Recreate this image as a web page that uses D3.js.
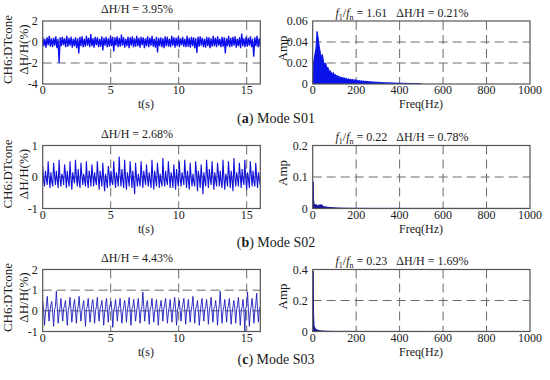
<!DOCTYPE html>
<html>
<head>
<meta charset="utf-8">
<script src="https://cdn.jsdelivr.net/npm/d3@7"></script>
<style>
  body { margin: 0; background: #fff; }
  text { font-family: "Liberation Serif", "DejaVu Serif", serif; fill: #1a1a1a; }
</style>
</head>
<body>
<div id="chart"></div>
<script>
// time signals, dH/H (%) sampled evenly over 0-16 s
var sigS01 = [
  0.5,-0.4,0.3,-0.55,0.45,-0.3,0.6,-0.45,0.35,-0.5,
  0.4,-0.35,0.55,-0.6,0.3,-2.0,0.45,-0.4,0.5,-0.3,
  0.35,-0.5,0.6,-0.45,0.4,-0.35,0.5,-0.55,0.3,-0.4,
  0.45,-0.6,0.35,-1.1,0.5,-0.4,0.55,-0.5,0.3,-0.45,
  0.6,-0.35,0.4,-0.5,0.75,-0.4,0.35,-0.55,0.5,-0.3,
  0.45,-0.5,0.3,-0.45,0.55,-0.8,0.4,-0.35,0.5,-0.5,
  0.35,-0.45,0.6,-0.4,0.5,-0.9,0.45,-0.35,0.55,-0.5,
  0.4,-0.45,0.7,-0.35,0.45,-0.55,0.3,-0.4,0.5,-0.6,
  0.45,-0.35,0.55,-0.5,0.35,-0.45,0.6,-0.4,0.4,-0.55,
  0.5,-0.3,0.45,-0.6,0.35,-0.4,0.55,-0.5,0.4,-0.35,
  0.6,-0.45,0.3,-0.55,0.5,-1.0,0.4,-0.4,0.45,-0.5,
  0.35,-0.6,0.55,-0.4,0.5,-0.45,0.3,-0.5,0.6,-0.35,
  0.45,-0.55,0.4,-0.4,0.55,-0.5,0.35,-0.3,0.5,-0.45,
  0.3,-0.5,0.6,-0.45,0.4,-0.55,0.5,-0.4,0.45,-0.6,
  0.35,-1.05,0.5,-0.45,0.55,-0.35,0.4,-0.5,0.3,-0.55,
  0.5,-0.4,0.45,-0.6,0.35,-0.45,0.6,-0.4,0.4,-0.5,
  0.55,-0.35,0.3,-0.5,0.5,-0.45,0.45,-1.1,0.35,-0.4,
  0.6,-0.5,0.4,-0.45,0.5,-0.35,0.55,-0.55,0.3,-0.4,
  0.45,-0.6,0.8,-0.4,0.35,-0.5,0.5,-0.45,0.4,-0.35,
  0.55,-0.5,0.3,-1.4,0.45,-0.4,0.6,-0.5,0.35,-0.45
];

var sigS02 = [
  0.35,-0.1,-0.3,0.2,-0.05,-0.25, 0.5,0.0,-0.35,0.15,-0.15,-0.3,
  0.45,0.05,-0.25,0.2,-0.1,-0.35, 0.55,-0.05,-0.3,0.1,0.0,-0.25,
  0.4,0.1,-0.35,0.2,-0.1,-0.3, 0.5,-0.05,-0.4,0.15,-0.05,-0.2,
  0.55,0.0,-0.3,0.25,-0.15,-0.35, 0.45,0.05,-0.25,0.1,-0.1,-0.3,
  0.5,-0.1,-0.35,0.2,0.0,-0.3, 0.4,0.05,-0.3,0.15,-0.1,-0.25,
  0.5,0.0,-0.4,0.2,-0.05,-0.3, 0.45,-0.05,-0.45,0.1,-0.1,-0.35,
  0.35,0.1,-0.3,0.2,-0.15,-0.25, 0.5,0.0,-0.35,0.15,-0.05,-0.3,
  0.65,0.05,-0.3,0.25,-0.1,-0.35, 0.55,-0.05,-0.4,0.15,-0.05,-0.3,
  0.5,0.1,-0.35,0.2,-0.15,-0.55, 0.45,0.0,-0.3,0.1,-0.1,-0.3,
  0.5,0.05,-0.35,0.2,-0.05,-0.25, 0.4,-0.05,-0.3,0.15,-0.1,-0.35,
  0.55,0.0,-0.4,0.2,-0.05,-0.3, 0.45,0.1,-0.35,0.1,-0.15,-0.3,
  0.6,-0.05,-0.3,0.2,-0.1,-0.25, 0.5,0.05,-0.35,0.15,-0.05,-0.35,
  0.4,0.0,-0.4,0.25,-0.1,-0.3, 0.5,-0.05,-0.3,0.15,-0.05,-0.25,
  0.55,0.05,-0.35,0.2,-0.1,-0.4, 0.45,0.0,-0.3,0.1,-0.15,-0.3,
  0.5,0.1,-0.45,0.2,-0.05,-0.35, 0.4,-0.05,-0.55,0.15,-0.1,-0.3,
  0.55,0.05,-0.35,0.25,-0.05,-0.25, 0.5,0.0,-0.4,0.15,-0.1,-0.3,
  0.45,0.1,-0.3,0.2,-0.15,-0.35, 0.55,-0.05,-0.4,0.1,-0.05,-0.3,
  0.5,0.05,-0.35,0.2,-0.1,-0.45, 0.6,0.0,-0.3,0.15,-0.05,-0.3,
  0.45,0.05,-0.35,0.25,-0.1,-0.25, 0.55,-0.05,-0.4,0.15,-0.05,-0.35,
  0.5,0.1,-0.3,0.2,-0.15,-0.3, 0.45,0.0,-0.35,0.15,-0.1,-0.25
];

var sigS03 = [
  0.5,0.0,-0.7,-0.1,0.2, 0.7,0.1,-0.5,0.0,0.3, 0.45,-0.1,-0.75,0.05,0.2,
  0.95,0.2,-0.6,-0.1,0.15, 0.6,0.0,-0.5,0.1,0.25, 0.5,-0.05,-0.7,0.0,0.2,
  0.65,0.1,-0.55,-0.1,0.3, 0.55,0.0,-0.6,0.05,0.2, 0.7,0.05,-0.5,0.0,0.25,
  0.5,-0.1,-0.75,0.1,0.2, 0.6,0.0,-0.55,-0.05,0.3, 0.55,0.1,-0.6,0.0,0.2,
  0.65,-0.05,-0.5,0.1,0.25, 0.5,0.0,-0.7,-0.1,0.2, 0.6,0.1,-0.55,0.05,0.3,
  0.45,0.0,-0.8,0.0,0.2, 0.55,0.05,-0.5,0.1,0.25, 0.6,-0.05,-0.6,-0.05,0.2,
  0.5,0.1,-0.55,0.0,0.3, 0.65,0.0,-0.7,0.1,0.2, 0.55,0.05,-0.5,-0.1,0.25,
  0.6,0.0,-0.6,0.05,0.2, 0.9,0.2,-0.5,0.0,0.3, 0.5,-0.05,-0.65,0.1,0.2,
  0.6,0.05,-0.55,-0.05,0.25, 0.55,0.0,-0.7,0.0,0.2, 0.5,0.1,-0.5,0.1,0.3,
  0.6,0.0,-0.6,-0.1,0.2, 0.55,-0.05,-0.55,0.05,0.25, 0.65,0.05,-0.7,0.0,0.2,
  0.5,0.0,-0.5,0.1,0.3, 0.6,0.1,-0.65,-0.05,0.2, 0.55,0.0,-0.55,0.0,0.25,
  0.7,0.05,-0.6,0.1,0.2, 0.5,-0.05,-0.7,-0.1,0.3, 0.6,0.0,-0.5,0.05,0.2,
  0.55,0.1,-0.65,0.0,0.25, 0.65,0.0,-0.55,0.1,0.2, 0.5,0.05,-0.7,-0.05,0.3,
  0.95,0.1,-0.6,0.0,0.2, 0.55,0.0,-0.55,0.1,0.25, 0.6,-0.05,-0.65,-0.1,0.2,
  0.5,0.1,-0.6,0.05,0.3, 0.65,0.0,-0.7,0.0,0.2, 0.55,0.05,-1.0,0.1,0.25,
  0.9,0.0,-0.75,-0.05,0.2, 0.6,0.1,-0.6,0.0,0.3, 0.85,0.0,-0.55,0.1,0.2
];

// spectrum S01, 5 Hz bins from 0 to 500 Hz
var ampS01 = [
  0.004,0.022,0.028,0.034,0.05,0.044,0.036,0.03,0.026,0.028,
  0.021,0.019,0.02,0.015,0.016,0.012,0.013,0.011,0.01,0.011,
  0.0085,0.009,0.0075,0.008,0.0065,0.007,0.006,0.0065,0.0055,0.006,
  0.005,0.0055,0.0045,0.005,0.0042,0.0045,0.004,0.0043,0.0036,0.004,
  0.0034,0.0036,0.003,0.0033,0.0028,0.003,0.0026,0.0029,0.0024,0.0027,
  0.0022,0.0024,0.002,0.0023,0.0019,0.0021,0.0018,0.002,0.0016,0.0018,
  0.0015,0.0017,0.0014,0.0015,0.0013,0.0014,0.0012,0.0013,0.0011,0.0012,
  0.001,0.0011,0.001,0.001,0.0009,0.001,0.0008,0.0009,0.0008,0.0008,
  0.0007,0.0008,0.0007,0.0007,0.0006,0.0007,0.0006,0.0006,0.0005,0.0006,
  0.0005,0.0005,0.0004,0.0005,0.0004,0.0004,0.0003,0.0004,0.0003,0.0003,
  0.0002
];
var freqS02 = [0,2,4,6,8,10,14,18,22,26,30,34,38,42,46,50,60,70,80,90,100,120,150,200,300,500,1000];
var ampS02 = [0.02,0.085,0.03,0.015,0.012,0.014,0.01,0.012,0.008,0.011,0.009,0.013,0.01,0.012,0.008,0.006,0.005,0.004,0.003,0.003,0.002,0.0015,0.001,0.0006,0.0004,0.0003,0.0002];
var freqS03 = [0,2,4,6,8,10,12,15,20,25,30,40,60,100,200,500,1000];
var ampS03 = [0.05,0.39,0.12,0.04,0.03,0.025,0.02,0.015,0.01,0.008,0.006,0.004,0.002,0.001,0.0006,0.0004,0.0003];

var sigTitles = ["ΔH/H = 3.95%", "ΔH/H = 2.68%", "ΔH/H = 4.43%"];
var ratios = ["1.61", "0.22", "0.23"];
var specDH = ["0.21%", "0.78%", "1.69%"];
var captionTags = ["a", "b", "c"];
var captionModes = ["Mode S01", "Mode S02", "Mode S03"];
var timeTicks = [0, 5, 10, 15];
var freqTicks = [0, 200, 400, 600, 800, 1000];

var svg = d3.select("#chart").append("svg").attr("width", 550).attr("height", 380);

var leftX = [42.7, 260.3];
var rightX = [312.7, 530];

var rows = [
  { top: 21, bottom: 84, sig: sigS01, yDom: [-4, 2], yTicks: [-4, -2, 0, 2],
    freq: ampS01.map(function (d, i) { return i * 5; }), amp: ampS01,
    aDom: [0, 0.06], aTicks: [0, 0.02, 0.04, 0.06], aFmt: ".2f",
    sigColor: "#0b0bf0", sigW: 1.3, specColor: "#0a14e8", capY: 118 },
  { top: 145.5, bottom: 208.5, sig: sigS02, yDom: [-1, 1], yTicks: [-1, 0, 1],
    freq: freqS02, amp: ampS02,
    aDom: [0, 0.2], aTicks: [0, 0.1, 0.2], aFmt: ".1f",
    sigColor: "#1212d8", sigW: 1.1, specColor: "#16169c", capY: 241.5 },
  { top: 269.5, bottom: 331.5, sig: sigS03, yDom: [-1, 2], yTicks: [-1, 0, 1, 2],
    freq: freqS03, amp: ampS03,
    aDom: [0, 0.4], aTicks: [0, 0.2, 0.4], aFmt: ".1f",
    sigColor: "#1c1cbc", sigW: 0.9, specColor: "#16169c", capY: 359 }
];

function frame(g, x, y, xTicks, gridX, yTicks, gridY, yFmt, id) {
  var x0 = x.range()[0], x1 = x.range()[1];
  var yb = y.range()[0], yt = y.range()[1];
  g.append("clipPath").attr("id", id).append("rect")
    .attr("x", x0).attr("y", yt).attr("width", x1 - x0).attr("height", yb - yt);
  var grid = g.append("g").attr("stroke", "#6a6a6a").attr("stroke-dasharray", "9,5");
  grid.selectAll(".gx").data(gridX).join("line")
    .attr("x1", x).attr("x2", x).attr("y1", yt).attr("y2", yb);
  grid.selectAll(".gy").data(gridY).join("line")
    .attr("x1", x0).attr("x2", x1).attr("y1", y).attr("y2", y);
  g.append("g").selectAll("text").data(xTicks).join("text")
    .attr("x", x).attr("y", yb + 10).attr("text-anchor", "middle")
    .attr("font-size", 12).text(function (d) { return d; });
  g.append("g").selectAll("text").data(yTicks).join("text")
    .attr("x", x0 - 5).attr("y", function (d) { return y(d) + 4; })
    .attr("text-anchor", "end").attr("font-size", 12).text(yFmt);
}

rows.forEach(function (r, k) {
  // left: time signal
  var gl = svg.append("g");
  var x = d3.scaleLinear().domain([0, 16]).range(leftX);
  var y = d3.scaleLinear().domain(r.yDom).range([r.bottom, r.top]);
  frame(gl, x, y, timeTicks, timeTicks.slice(1), r.yTicks, r.yTicks.slice(1, -1),
    function (d) { return d; }, "cl" + k);
  var n = r.sig.length;
  var line = d3.line()
    .x(function (d, i) { return x(i * 16 / (n - 1)); })
    .y(function (d) { return y(d); });
  gl.append("path").datum(r.sig).attr("d", line)
    .attr("clip-path", "url(#cl" + k + ")")
    .attr("fill", "none").attr("stroke", r.sigColor).attr("stroke-width", r.sigW);
  gl.append("rect").attr("x", leftX[0]).attr("y", r.top)
    .attr("width", leftX[1] - leftX[0]).attr("height", r.bottom - r.top)
    .attr("fill", "none").attr("stroke", "#555").attr("stroke-width", 1.2);
  gl.append("text").attr("x", 137).attr("y", r.top - 8).attr("text-anchor", "middle")
    .attr("font-size", 12).text(sigTitles[k]);
  gl.append("text").attr("x", 146).attr("y", r.bottom + 24).attr("text-anchor", "middle")
    .attr("font-size", 12).text("t(s)");
  var yl = gl.append("text").attr("text-anchor", "middle").attr("font-size", 13)
    .attr("transform", "translate(12," + ((r.top + r.bottom) / 2 - 3) + ") rotate(-90)");
  yl.append("tspan").attr("x", 0).attr("y", 0).text("CH6:DTcone");
  yl.append("tspan").attr("x", 0).attr("y", 16).text("ΔH/H(%)");

  // right: amplitude spectrum
  var gr = svg.append("g");
  var fx = d3.scaleLinear().domain([0, 1000]).range(rightX);
  var ay = d3.scaleLinear().domain(r.aDom).range([r.bottom, r.top]);
  frame(gr, fx, ay, freqTicks, freqTicks.slice(1, -1), r.aTicks, r.aTicks.slice(1, -1),
    function (d) { return d === 0 ? "0" : d3.format(r.aFmt)(d); }, "cr" + k);
  var pts = r.freq.map(function (f, i) { return [f, r.amp[i]]; });
  var area = d3.area()
    .x(function (d) { return fx(d[0]); })
    .y0(ay(0)).y1(function (d) { return ay(d[1]); });
  gr.append("path").datum(pts).attr("d", area)
    .attr("clip-path", "url(#cr" + k + ")")
    .attr("fill", r.specColor).attr("stroke", r.specColor).attr("stroke-width", 1);
  gr.append("rect").attr("x", rightX[0]).attr("y", r.top)
    .attr("width", rightX[1] - rightX[0]).attr("height", r.bottom - r.top)
    .attr("fill", "none").attr("stroke", "#555").attr("stroke-width", 1.2);
  var tt = gr.append("text").attr("x", 402).attr("y", r.top - 5 + (k === 0 ? 1 : 0))
    .attr("text-anchor", "middle").attr("font-size", 12);
  tt.append("tspan").attr("font-style", "italic").text("f");
  tt.append("tspan").attr("font-size", 8).attr("dy", 3).text("1");
  tt.append("tspan").attr("dy", -3).text("/");
  tt.append("tspan").attr("font-style", "italic").text("f");
  tt.append("tspan").attr("font-size", 8).attr("dy", 3).text("n");
  tt.append("tspan").attr("dy", -3)
    .text(" = " + ratios[k] + "\u00a0\u00a0\u00a0ΔH/H = " + specDH[k]);
  gr.append("text").attr("x", 421).attr("y", r.bottom + 24).attr("text-anchor", "middle")
    .attr("font-size", 12).text("Freq(Hz)");
  gr.append("text").attr("text-anchor", "middle").attr("font-size", 13)
    .attr("transform", "translate(287," + ((r.top + r.bottom) / 2 - 4) + ") rotate(-90)")
    .text("Amp");

  // caption
  var cap = svg.append("text").attr("x", 276).attr("y", r.capY + 5)
    .attr("text-anchor", "middle").attr("font-size", 14);
  cap.append("tspan").text("(");
  cap.append("tspan").attr("font-weight", "bold").text(captionTags[k]);
  cap.append("tspan").text(") " + captionModes[k]);
});
</script>
</body>
</html>
